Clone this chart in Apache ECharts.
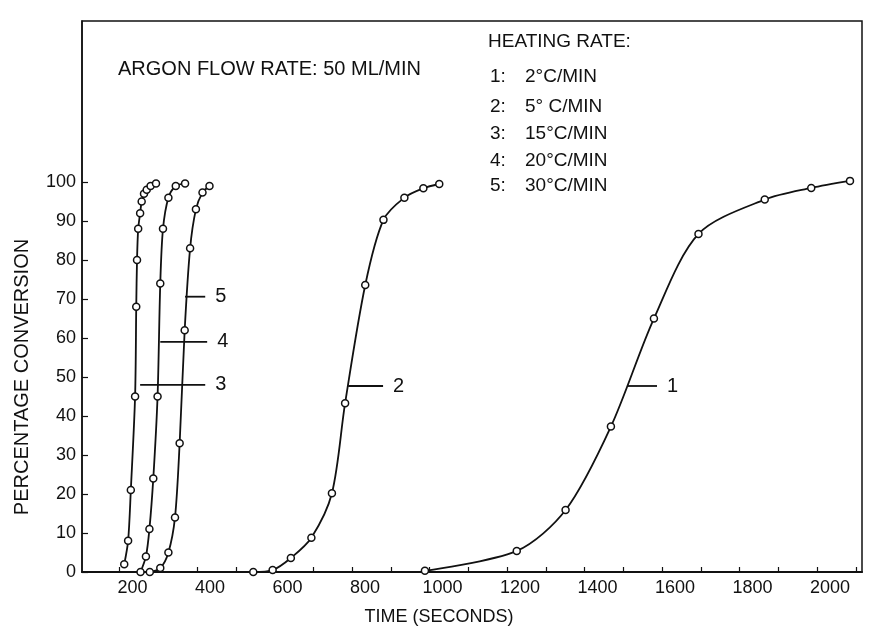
<!DOCTYPE html>
<html>
<head>
<meta charset="utf-8">
<script src="https://cdn.jsdelivr.net/npm/echarts@6/dist/echarts.min.js"></script>
<style>
  html, body { margin: 0; padding: 0; background: #fff; }
  #chart { width: 880px; height: 628px; }
</style>
</head>
<body>
<div id="chart"></div>
<script>
// Conversion curves, one per heating rate: [time (s), percentage conversion]
const rate1 = [[988, 0.3], [1225, 5.4], [1351, 15.9], [1468, 37.3], [1579, 65], [1694, 86.7], [1865, 95.5], [1985, 98.5], [2085, 100.3]];
const rate2 = [[545, 0], [595, 0.5], [642, 3.6], [695, 8.8], [748, 20.2], [782, 43.3], [834, 73.6], [881, 90.3], [935, 96], [984, 98.4], [1025, 99.5]];
const rate3 = [[212, 2], [222, 8], [229, 21], [240, 45], [243, 68], [245, 80], [248, 88], [253, 92], [257, 95], [263, 97], [270, 98], [280, 99], [294, 99.6]];
const rate4 = [[254, 0], [268, 4], [277, 11], [287, 24], [298, 45], [305, 74], [312, 88], [326, 96], [345, 99], [369, 99.6]];
const rate5 = [[278, 0], [305, 1], [326, 5], [343, 14], [355, 33], [368, 62], [382, 83], [397, 93], [414, 97.3], [432, 99]];

// Curve call-outs: label, conversion level, start and end time of the leader line
const calloutNames = ['1', '2', '3', '4', '5'];
const calloutLevels = [47.7, 47.7, 48, 59, 70.6];
const calloutFrom = [1510, 790, 253, 305, 369];
const calloutTo = [1587, 880, 421, 426, 421];

// Axis ticks and labels
const timeTicks = [100, 200, 300, 400, 500, 600, 700, 800, 900, 1000, 1100, 1200, 1300, 1400, 1500, 1600, 1700, 1800, 1900, 2000, 2100];
const timeLabels = [200, 400, 600, 800, 1000, 1200, 1400, 1600, 1800, 2000];
const conversionTicks = [0, 10, 20, 30, 40, 50, 60, 70, 80, 90, 100];

// Legend text
const flowNote = 'ARGON FLOW RATE: 50 ML/MIN';
const legendTitle = 'HEATING RATE:';
const legendKeys = ['1:', '2:', '3:', '4:', '5:'];
const legendRates = ['2°C/MIN', '5° C/MIN', '15°C/MIN', '20°C/MIN', '30°C/MIN'];

const FONT = '"Liberation Sans", Arial, sans-serif';
const INK = '#111';

const chart = echarts.init(document.getElementById('chart'), null, { renderer: 'canvas' });

const curveSeries = [rate1, rate2, rate3, rate4, rate5].map((d, i) => ({
  name: 'rate' + (i + 1),
  type: 'line',
  data: d,
  smooth: 0.3,
  symbol: 'circle',
  symbolSize: 7,
  showAllSymbol: true,
  lineStyle: { color: INK, width: 1.8 },
  itemStyle: { color: '#fff', borderColor: INK, borderWidth: 1.5 },
  emphasis: { disabled: true },
  z: 3
}));

const calloutSeries = calloutNames.map((name, i) => ({
  type: 'line',
  data: [[calloutFrom[i], calloutLevels[i]], [calloutTo[i], calloutLevels[i]]],
  symbol: 'none',
  lineStyle: { color: INK, width: 1.8 },
  endLabel: {
    show: true,
    formatter: name,
    color: INK,
    fontFamily: FONT,
    fontSize: 20,
    distance: 10
  },
  emphasis: { disabled: true },
  z: 2
}));

const legendGraphics = [
  { type: 'text', left: 118, top: 59, style: { text: flowNote, font: '20px ' + FONT, fill: INK } },
  { type: 'text', left: 488, top: 32, style: { text: legendTitle, font: '19px ' + FONT, fill: INK } }
];
const rowTops = [67, 97, 124, 151, 176];
legendKeys.forEach((k, i) => {
  legendGraphics.push({ type: 'text', left: 490, top: rowTops[i], style: { text: k, font: '19px ' + FONT, fill: INK } });
  legendGraphics.push({ type: 'text', left: 525, top: rowTops[i], style: { text: legendRates[i], font: '19px ' + FONT, fill: INK } });
});
legendGraphics.push({
  type: 'text', x: 22, y: 377, rotation: Math.PI / 2,
  style: { text: 'PERCENTAGE CONVERSION', font: '20px ' + FONT, fill: INK, align: 'center', verticalAlign: 'middle' }
});
legendGraphics.push({
  type: 'text', x: 439, y: 617,
  style: { text: 'TIME (SECONDS)', font: '18px ' + FONT, fill: INK, align: 'center', verticalAlign: 'middle' }
});

chart.setOption({
  animation: false,
  backgroundColor: '#fff',
  grid: {
    left: 82, top: 21, right: 18, bottom: 56,
    show: true, borderColor: INK, borderWidth: 1.5, backgroundColor: 'transparent'
  },
  xAxis: {
    type: 'value',
    min: 103,
    max: 2116,
    axisLine: { show: true, onZero: false, lineStyle: { color: INK, width: 2 } },
    axisTick: { show: true, inside: true, length: 5, customValues: timeTicks, lineStyle: { color: INK, width: 1.2 } },
    axisLabel: {
      customValues: timeLabels,
      formatter: v => String(v),
      color: INK, fontFamily: FONT, fontSize: 18, margin: 7,
      padding: [0, 0, 0, 26]
    },
    splitLine: { show: false }
  },
  yAxis: {
    type: 'value',
    min: 0,
    max: 141.3,
    axisLine: { show: true, lineStyle: { color: INK, width: 1.5 } },
    axisTick: { show: true, inside: true, length: 6, customValues: conversionTicks, lineStyle: { color: INK, width: 1.2 } },
    axisLabel: { customValues: conversionTicks, formatter: v => String(v), color: INK, fontFamily: FONT, fontSize: 18, margin: 6 },
    splitLine: { show: false }
  },
  series: curveSeries.concat(calloutSeries),
  graphic: legendGraphics
});
</script>
</body>
</html>
